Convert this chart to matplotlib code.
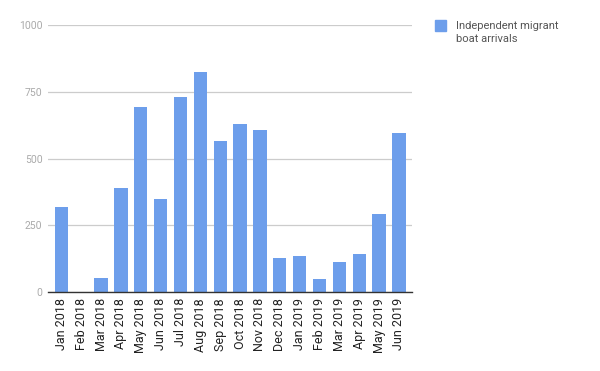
import numpy as np
import matplotlib
matplotlib.use('Agg')
import matplotlib.pyplot as plt

months = ['Jan 2018', 'Feb 2018', 'Mar 2018', 'Apr 2018', 'May 2018', 'Jun 2018',
          'Jul 2018', 'Aug 2018', 'Sep 2018', 'Oct 2018', 'Nov 2018', 'Dec 2018',
          'Jan 2019', 'Feb 2019', 'Mar 2019', 'Apr 2019', 'May 2019', 'Jun 2019']
arrivals = [318, 0, 54, 389, 693, 348, 730, 825, 565, 629, 607, 127,
            136, 49, 112, 142, 292, 595]
yticks = [0, 250, 500, 750, 1000]
series_name = 'Independent migrant\nboat arrivals'

plt.rcParams['font.family'] = ['Roboto', 'DejaVu Sans']

fig = plt.figure(figsize=(6, 3.71), dpi=100)
ax = fig.add_axes([0.08, 0.212, 0.607, 0.721])

x = np.arange(len(months))
ax.bar(x, arrivals, width=0.67, color='#6d9eeb', zorder=3)

ax.set_xlim(-0.67, len(months) - 1 + 0.67)
ax.set_ylim(0, 1000)
ax.set_yticks(yticks)
ax.set_yticklabels([str(t) for t in yticks], color='#aaaaaa', fontsize=7.5)
ax.set_xticks(x)
ax.set_xticklabels(months, rotation=90, fontsize=9, color='#222222')
ax.tick_params(axis='both', length=0, pad=4)
ax.grid(axis='y', color='#cccccc', linewidth=0.9, zorder=0)
for s in ['top', 'right', 'left']:
    ax.spines[s].set_visible(False)
ax.spines['bottom'].set_color('#333333')
ax.spines['bottom'].set_linewidth(1)
ax.spines['bottom'].set_zorder(4)

# legend drawn by hand, like the google chart
fig.patches.append(plt.Rectangle((435 / 600, 1 - 31 / 371), 11 / 600, 11 / 371,
                                 transform=fig.transFigure, color='#6d9eeb'))
fig.text(456 / 600, 1 - 32.5 / 371, series_name, fontsize=8, color='#555555',
         va='center', ha='left', linespacing=1.45)

fig.savefig('out.png', dpi=100)
